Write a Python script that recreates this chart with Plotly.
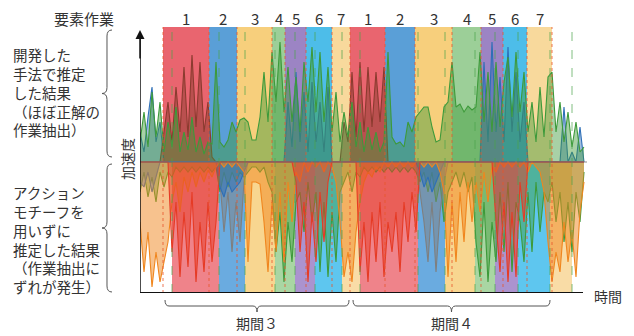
import plotly.graph_objects as go

# ---------------- data ----------------
task_labels = ["1", "2", "3", "4", "5", "6", "7", "1", "2", "3", "4", "5", "6", "7"]
# band boundaries (time units) - top: developed method, bottom: without action motif
top_bounds = [23, 69, 97, 132, 145, 166, 192, 210, 245, 275, 312, 341, 363, 387, 412]
bottom_bounds = [32, 79, 105, 135, 155, 175, 202, 220, 278, 305, 335, 355, 378, 410, 432]
period_labels = ["期間３", "期間４"]

t = list(range(0, 448, 4))  # sampling grid (112 samples)

green_top = [20, 50, 15, 70, 25, 60, 10, 40, 15, 55,
             10, 30, 12, 45, 10, 25, 8, 20, 18, 100,
             20, 15, 22, 40, 30, 42, 44, 40, 22, 22,
             45, 90, 40, 110, 60, 120, 50, 95, 40, 85,
             30, 100, 60, 115, 50, 110, 40, 95, 30, 70,
             20, 50, 25, 60, 15, 40, 10, 35, 12, 30,
             10, 20, 110, 25, 18, 20, 15, 40, 30, 45,
             50, 55, 55, 35, 20, 22, 55, 60, 100, 55,
             58, 50, 56, 52, 55, 110, 40, 90, 30, 100,
             35, 80, 105, 45, 110, 50, 90, 30, 60, 20,
             75, 25, 85, 90, 30, 60, 20, 50, 15, 40,
             10, 15]
dark_top = [0, 0, 0, 0, 0, 0, 30, 60, 20, 75,
            30, 95, 25, 107, 35, 100, 30, 60, 5, 0,
            0, 0, 0, 0, 0, 0, 0, 0, 0, 0,
            0, 0, 0, 0, 0, 0, 0, 0, 0, 0,
            0, 0, 0, 0, 0, 0, 0, 0, 0, 0,
            0, 40, 20, 90, 25, 100, 30, 95, 35, 90,
            40, 95, 0, 0, 0, 0, 0, 0, 0, 0,
            0, 0, 0, 0, 0, 0, 0, 0, 0, 0,
            0, 0, 0, 0, 0, 0, 0, 0, 0, 0,
            0, 0, 0, 0, 0, 0, 0, 0, 0, 0,
            0, 0, 0, 0, 0, 0, 0, 0, 0, 0,
            0, 0]
blue_top = [30, 10, 45, 75, 20, 40, 0, 0, 0, 0,
            0, 0, 0, 0, 0, 0, 0, 0, 0, 0,
            0, 0, 0, 0, 0, 0, 0, 0, 0, 0,
            0, 0, 0, 0, 0, 0, 0, 60, 15, 90,
            20, 70, 10, 80, 20, 60, 10, 75, 0, 0,
            0, 0, 0, 0, 0, 0, 0, 0, 0, 0,
            0, 0, 0, 0, 0, 0, 0, 0, 0, 0,
            0, 0, 0, 0, 0, 0, 0, 0, 0, 0,
            0, 0, 0, 0, 0, 0, 100, 20, 120, 30,
            85, 20, 115, 30, 90, 20, 60, 0, 0, 0,
            0, 0, 0, 0, 0, 0, 55, 0, 10, 0,
            35, 0]

orange_bot = [-60, -110, -70, -125, -90, -120, -100, -80, -40, -20,
              -50, -15, -30, -10, -25, -10, -20, -8, -15, -5,
              0, -5, 0, -5, 0, -5, -10, -100, -20, -20,
              -22, -60, -110, -40, -90, -30, -100, -20, -60, -10,
              -20, 0, -10, 0, -5, 0, -10, 0, -5, -20,
              -60, -115, -90, -120, -70, -40, -20, -10, -15, -5,
              -10, 0, -5, 0, -5, 0, -5, 0, -5, 0,
              0, -5, 0, -5, 0, -10, -30, -115, -40, -100,
              -30, -80, -20, -60, -20, -50, -10, -40, -5, -10,
              0, -5, 0, -5, 0, -5, 0, -10, 0, -5,
              -10, -30, -80, -120, -90, -110, -60, -100, -70, -115,
              -50, -20]
red_bot = [0, 0, 0, 0, 0, 0, 0, 0, -90, -40,
           -115, -50, -105, -30, -120, -60, -110, -40, -100, -60,
           0, 0, 0, 0, 0, 0, 0, 0, 0, 0,
           0, 0, 0, 0, 0, 0, 0, 0, 0, -20,
           -90, -40, -120, -50, -100, -30, -80, -20, 0, 0,
           0, 0, 0, 0, 0, -110, -60, -120, -50, -100,
           -40, -115, -60, -90, -50, -110, -40, -80, -30, -70,
           0, 0, 0, 0, 0, 0, 0, 0, 0, 0,
           0, 0, 0, 0, 0, 0, 0, 0, 0, -60,
           -110, -40, -120, -50, -115, -20, -60, 0, 0, 0,
           0, 0, 0, 0, 0, 0, 0, 0, 0, 0,
           0, 0]
green_bot = [-30, -10, -35, -15, -40, -10, -25, -10, -15, -5,
             -10, -5, -10, -5, -10, -5, -10, -5, -10, -5,
             -30, -10, -25, -10, -20, -10, -15, -10, -5, -5,
             -10, -5, -20, -30, -90, -50, -120, -60, -100, -40,
             -30, -70, -20, -60, -30, -110, -40, -115, -50, -100,
             -30, -20, -10, -30, -10, -15, -5, -10, -5, -10,
             -5, -10, -5, -10, -5, -10, -5, -10, -5, -10,
             -20, -10, -30, -10, -40, -20, -60, -30, -20, -10,
             -25, -10, -30, -15, -80, -115, -40, -120, -60, -100,
             -30, -90, -20, -110, -40, -60, -100, -30, -90, -20,
             -70, -30, -40, -20, -60, -30, -80, -40, -90, -30,
             -60, -10]
gray_bot = [0, 0, 0, 0, 0, 0, 0, 0, 0, 0,
            0, 0, 0, 0, 0, 0, 0, 0, 0, 0,
            -20, -70, -30, -90, -40, -80, -20, 0, 0, 0,
            0, 0, 0, 0, 0, 0, 0, 0, 0, 0,
            0, 0, 0, 0, 0, 0, 0, 0, 0, 0,
            0, 0, 0, 0, 0, 0, 0, 0, 0, 0,
            0, 0, 0, 0, 0, 0, 0, 0, 0, 0,
            -30, -60, -100, -40, -110, -50, -20, 0, 0, 0,
            0, 0, 0, 0, 0, 0, 0, 0, 0, 0,
            0, 0, 0, 0, 0, 0, 0, 0, 0, 0,
            0, 0, 0, 0, 0, 0, 0, 0, 0, 0,
            0, 0]
blue_bot = [-20, -25, -10, -30, -15, 0, 0, 0, 0, 0,
            0, 0, 0, 0, 0, 0, 0, 0, 0, 0,
            -25, -35, -20, -30, -25, -20, -10, 0, 0, 0,
            0, 0, 0, 0, 0, 0, 0, 0, 0, 0,
            0, 0, 0, 0, 0, 0, 0, 0, 0, 0,
            0, 0, 0, 0, 0, 0, 0, 0, 0, 0,
            0, 0, 0, 0, 0, 0, 0, 0, 0, 0,
            -10, -25, -15, -30, -20, -10, 0, 0, 0, 0,
            0, 0, 0, 0, 0, 0, 0, 0, 0, 0,
            0, 0, 0, 0, 0, 0, 0, 0, 0, 0,
            0, 0, 0, 0, 0, 0, 0, 0, 0, 0,
            0, 0]

# ---------------- styles ----------------
X_MAX = 447
Y_MIN, Y_MAX = -131, 135
top_colors = ["#e9656f", "#5a9fd7", "#f7cf7c", "#9ccf98", "#9c84c4", "#4dbde9", "#f8d99c"]
bot_colors = ["#ef838a", "#6aabe0", "#f8d690", "#a9d6a3", "#ab93cf", "#5ec6ef", "#f9dca6"]
FONT = "Noto Sans CJK JP"
TXT = "#333333"
OFF = 8  # page body margin
W, H = 634 - OFF, 336 - OFF
PAGE_L, PAGE_T, PAGE_R, PAGE_B = 140, 27, 587, 293
L, T = PAGE_L - OFF, PAGE_T - OFF
R, B = W - (PAGE_R - OFF), H - (PAGE_B - OFF)
PW, PH = PAGE_R - PAGE_L, PAGE_B - PAGE_T


def pxx(px):
    return (px - PAGE_L) / PW


def pxy(py):
    return (PAGE_B - py) / PH


fig = go.Figure()


def add_sig(vals, color, fillcolor):
    fig.add_trace(go.Scatter(x=t, y=vals, mode="lines", line=dict(color=color, width=1.1),
                             fill="tozeroy", fillcolor=fillcolor, hoverinfo="skip",
                             showlegend=False))


add_sig(blue_top, "#2e6fb7", "rgba(46,111,183,0.45)")
add_sig(dark_top, "#8b3b2f", "rgba(139,59,47,0.5)")
add_sig(green_top, "#3d9a3a", "rgba(61,154,58,0.45)")
add_sig(green_bot, "#3d9a3a", "rgba(61,154,58,0.45)")
add_sig(gray_bot, "#7f7f7f", "rgba(127,127,127,0.5)")
add_sig(blue_bot, "#2e6fb7", "rgba(46,111,183,0.5)")
add_sig(orange_bot, "#f0861e", "rgba(240,134,30,0.5)")
add_sig(red_bot, "#e63b25", "rgba(230,59,37,0.5)")

shapes = []
for k in range(len(top_bounds) - 1):
    shapes.append(dict(type="rect", xref="x", yref="y", x0=top_bounds[k], x1=top_bounds[k + 1],
                       y0=0, y1=Y_MAX, fillcolor=top_colors[k % 7], line=dict(width=0),
                       layer="below"))
for k in range(len(bottom_bounds) - 1):
    shapes.append(dict(type="rect", xref="x", yref="y", x0=bottom_bounds[k], x1=bottom_bounds[k + 1],
                       y0=Y_MIN, y1=0, fillcolor=bot_colors[k % 7], line=dict(width=0),
                       layer="below"))
for b in top_bounds:
    shapes.append(dict(type="line", xref="x", yref="y", x0=b, x1=b, y0=Y_MIN, y1=Y_MAX,
                       line=dict(color="rgba(232,85,43,0.8)", width=1, dash="dot")))
for b in bottom_bounds:
    shapes.append(dict(type="line", xref="x", yref="y", x0=b, x1=b, y0=Y_MIN, y1=Y_MAX,
                       line=dict(color="rgba(74,163,74,0.7)", width=1, dash="dash")))
# midline
shapes.append(dict(type="line", xref="x", yref="y", x0=0, x1=X_MAX, y0=0, y1=0,
                   line=dict(color="rgba(110,110,110,0.8)", width=1)))
# axes
shapes.append(dict(type="line", xref="x", yref="y", x0=0, x1=0, y0=Y_MIN, y1=Y_MAX - 8,
                   line=dict(color="#111111", width=1.5)))
shapes.append(dict(type="line", xref="x", yref="y", x0=0, x1=X_MAX - 4, y0=Y_MIN, y1=Y_MIN,
                   line=dict(color="#111111", width=2)))


def vbrace(xr, xm, xt, y0, y1, r=6):
    ym = (y0 + y1) / 2
    pts = [("M", [(xr, y0)]), ("Q", [(xm, y0), (xm, y0 + r)]), ("L", [(xm, ym - r)]),
           ("Q", [(xm, ym), (xt, ym)]), ("Q", [(xm, ym), (xm, ym + r)]), ("L", [(xm, y1 - r)]),
           ("Q", [(xm, y1), (xr, y1)])]
    s = ""
    for cmd, ps in pts:
        s += cmd + " " + " ".join(f"{pxx(a):.5f},{pxy(b):.5f}" for a, b in ps) + " "
    return s


shapes.append(dict(type="path", xref="paper", yref="paper", path=vbrace(112, 107, 102, 30, 157),
                   line=dict(color="#555555", width=1)))
shapes.append(dict(type="path", xref="paper", yref="paper", path=vbrace(112, 107, 102, 164, 292),
                   line=dict(color="#555555", width=1)))


def hbrace(x0, x1, r=4):
    xm = (x0 + x1) / 2
    ya, yb, yc = pxy(300), pxy(306), pxy(312)
    return (f"M {x0},{ya} Q {x0},{yb} {x0 + r},{yb} L {xm - r},{yb} Q {xm},{yb} {xm},{yc} "
            f"Q {xm},{yb} {xm + r},{yb} L {x1 - r},{yb} Q {x1},{yb} {x1},{ya}")


def note(x, y, text, xref="paper", size=14, **kw):
    d = dict(x=x, y=y, xref=xref, yref="paper", text=text, showarrow=False,
             xanchor="center", yanchor="middle", font=dict(family=FONT, size=size, color=TXT))
    d.update(kw)
    return d


period_spans = [(top_bounds[0] + 2, top_bounds[7] - 1), (top_bounds[7] + 3, top_bounds[14] - 2)]
annotations = []
for (a, b), lab in zip(period_spans, period_labels):
    shapes.append(dict(type="path", xref="x", yref="paper", path=hbrace(a, b),
                       line=dict(color="#555555", width=1)))
    annotations.append(note((a + b) / 2, pxy(323), lab, xref="x", size=14))

# task numbers
for k, lab in enumerate(task_labels):
    annotations.append(note((top_bounds[k] + top_bounds[k + 1]) / 2, pxy(18), lab, xref="x", size=15))
annotations.append(note(pxx(116), pxy(18), "要素作業", size=15, xanchor="right"))
annotations.append(note(pxx(11), pxy(92), "開発した<br>手法で推定<br>した結果<br>（ほぼ正解の<br>作業抽出）",
                        size=14.5, xanchor="left", align="left"))
annotations.append(note(pxx(11), pxy(239),
                        "アクション<br>モチーフを<br>用いずに<br>推定した結果<br>（作業抽出に<br>ずれが発生）",
                        size=14.5, xanchor="left", align="left"))
annotations.append(note(pxx(127), pxy(159), "加速度", size=14, textangle=-90))
annotations.append(note(pxx(608), pxy(296), "時間", size=14))
# arrow heads
annotations.append(dict(x=0, y=Y_MAX - 3, xref="x", yref="y", ax=0, ay=30, text="",
                        showarrow=True, arrowhead=2, arrowsize=1.2, arrowwidth=1.5,
                        arrowcolor="#111111"))
annotations.append(dict(x=X_MAX + 2, y=Y_MIN, xref="x", yref="y", ax=-30, ay=0, text="",
                        showarrow=True, arrowhead=2, arrowsize=1.2, arrowwidth=2,
                        arrowcolor="#111111"))

fig.update_layout(
    width=W, height=H, margin=dict(l=L, r=R, t=T, b=B),
    paper_bgcolor="white", plot_bgcolor="white",
    xaxis=dict(range=[0, X_MAX], visible=False, fixedrange=True),
    yaxis=dict(range=[Y_MIN, Y_MAX], visible=False, fixedrange=True),
    shapes=shapes, annotations=annotations, showlegend=False,
)
fig.write_html("out.html")
